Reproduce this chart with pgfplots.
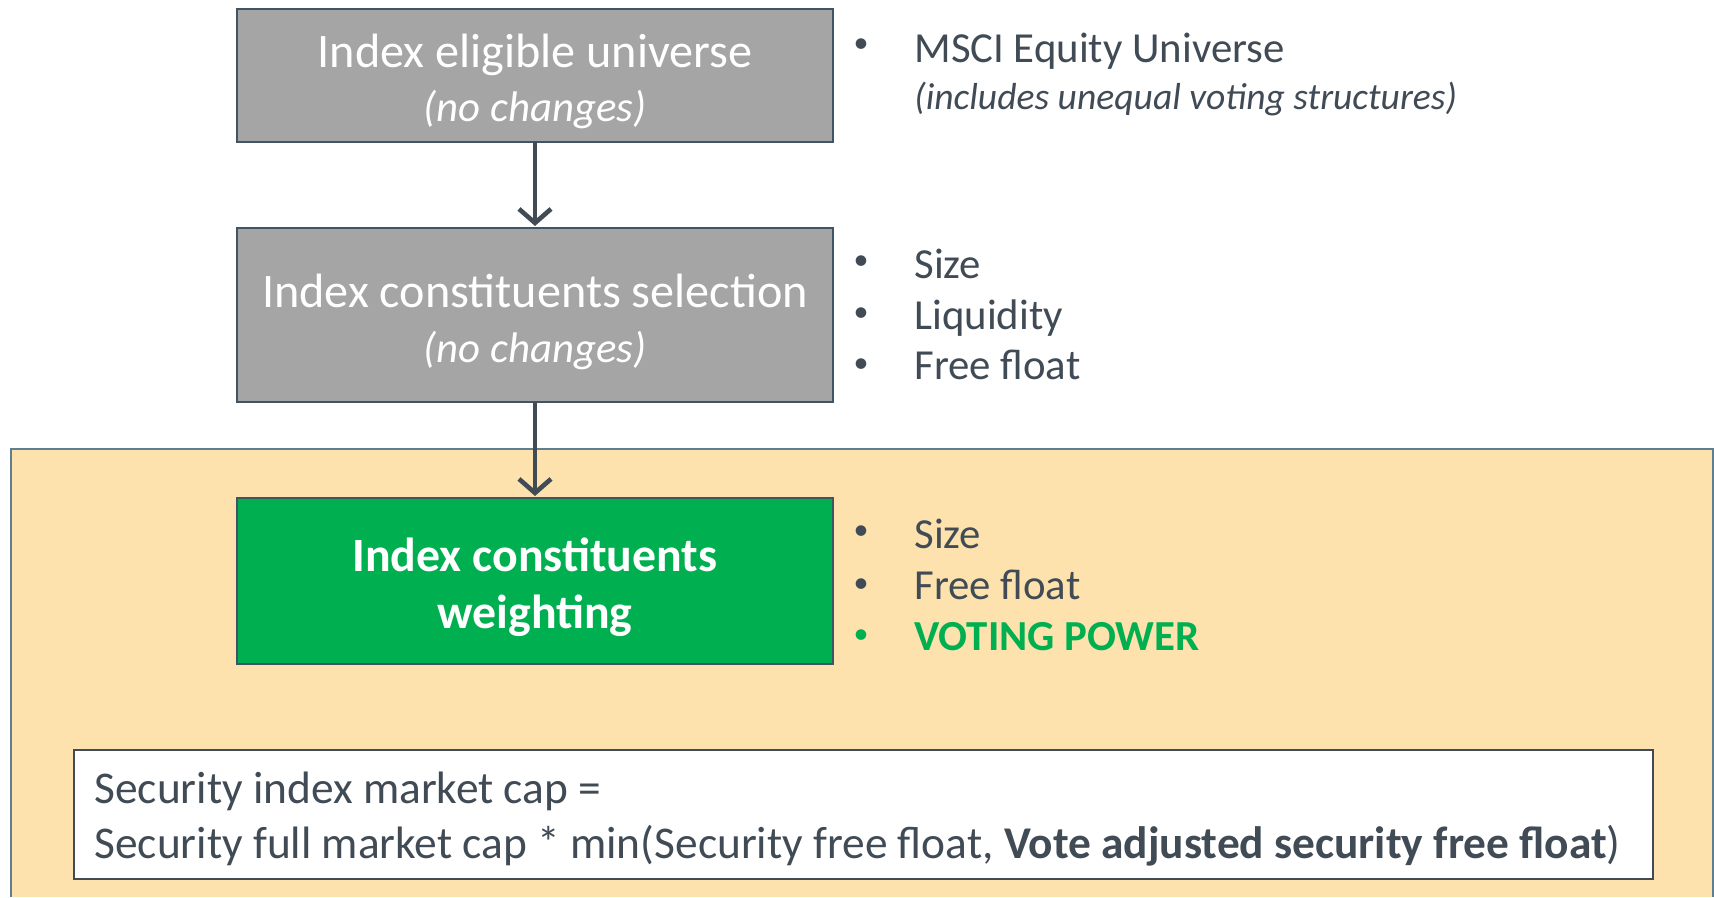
\documentclass[border=0pt]{standalone}
\usepackage{pgfplots}
\pgfplotsset{compat=1.18}
\usepackage{fontspec}
\setmainfont{Carlito}
\usetikzlibrary{arrows.meta}
\definecolor{txt}{HTML}{404B55}
\definecolor{boxgray}{HTML}{A5A5A5}
\definecolor{edge}{HTML}{3F5566}
\definecolor{grn}{HTML}{00B050}
\definecolor{panel}{HTML}{FDE2AD}
\definecolor{panelline}{HTML}{5E7E92}
\newcommand{\fbig}{\fontsize{24.1}{30}\selectfont}
\newcommand{\fbit}{\fontsize{21.4}{30}\selectfont}
\newcommand{\fgrn}{\fontsize{23.9}{30}\selectfont}
\newcommand{\fmid}{\fontsize{21.4}{28}\selectfont}
\newcommand{\fsml}{\fontsize{18.8}{24}\selectfont}
\newcommand{\fform}{\fontsize{22.7}{28}\selectfont}
\newcommand{\fbul}{\fontsize{15}{18}\selectfont}
\begin{document}
\begin{tikzpicture}
\begin{axis}[width=857pt,height=448.5pt,scale only axis,xmin=0,xmax=1714,ymin=0,ymax=897,y dir=reverse,hide axis,clip=false]
\fill[white] (axis cs:0,0) rectangle (axis cs:1714,897);
% orange panel
\fill[panel] (axis cs:11,449) rectangle (axis cs:1714,897);
\draw[panelline,line width=1pt] (axis cs:11,897) -- (axis cs:11,449) -- (axis cs:1713,449) -- (axis cs:1713,897);
% boxes
\draw[edge,line width=1.1pt,fill=boxgray] (axis cs:237,9) rectangle (axis cs:833,142);
\draw[edge,line width=1.1pt,fill=boxgray] (axis cs:237,228) rectangle (axis cs:833,402);
\draw[edge,line width=1.1pt,fill=grn] (axis cs:237,498) rectangle (axis cs:833,664);
\draw[txt,line width=1.1pt,fill=white] (axis cs:74,750) rectangle (axis cs:1653,879);
% arrows
\draw[txt,line width=2.3pt,-{Straight Barb[length=7pt,width=16pt]}] (axis cs:535,142) -- (axis cs:535,226);
\draw[txt,line width=2.3pt,-{Straight Barb[length=7pt,width=16pt]}] (axis cs:535,402) -- (axis cs:535,496);
% box texts
\node[white,anchor=base,inner sep=0] at (axis cs:535,68) {\fbig Index eligible universe};
\node[white,anchor=base,inner sep=0] at (axis cs:535,122) {\fbit\itshape (no changes)};
\node[white,anchor=base,inner sep=0] at (axis cs:535,308) {\fbig Index constituents selection};
\node[white,anchor=base,inner sep=0] at (axis cs:535,363) {\fbit\itshape (no changes)};
\node[white,anchor=base,inner sep=0] at (axis cs:535,571) {\fgrn\bfseries Index constituents};
\node[white,anchor=base,inner sep=0] at (axis cs:535,628) {\fgrn\bfseries weighting};
% bullets
\node[txt,anchor=center,inner sep=0] at (axis cs:861,46) {\fbul •};
\node[txt,anchor=base west,inner sep=0] at (axis cs:914,63) {\fmid MSCI Equity Universe};
\node[txt,anchor=base west,inner sep=0] at (axis cs:914,110) {\fsml\itshape (includes unequal voting structures)};
\node[txt,anchor=center,inner sep=0] at (axis cs:861,263) {\fbul •};
\node[txt,anchor=base west,inner sep=0] at (axis cs:914,279) {\fmid Size};
\node[txt,anchor=center,inner sep=0] at (axis cs:861,315) {\fbul •};
\node[txt,anchor=base west,inner sep=0] at (axis cs:914,330) {\fmid Liquidity};
\node[txt,anchor=center,inner sep=0] at (axis cs:861,366) {\fbul •};
\node[txt,anchor=base west,inner sep=0] at (axis cs:914,380) {\fmid Free float};
\node[txt,anchor=center,inner sep=0] at (axis cs:861,533) {\fbul •};
\node[txt,anchor=base west,inner sep=0] at (axis cs:914,548) {\fmid Size};
\node[txt,anchor=center,inner sep=0] at (axis cs:861,586) {\fbul •};
\node[txt,anchor=base west,inner sep=0] at (axis cs:914,599) {\fmid Free float};
\node[grn,anchor=center,inner sep=0] at (axis cs:861,637) {\fbul •};
\node[grn,anchor=base west,inner sep=0] at (axis cs:914,650) {\fmid\bfseries VOTING POWER};
% formula
\node[txt,anchor=base west,inner sep=0] at (axis cs:94,803) {\fform Security index market cap =};
\node[txt,anchor=base west,inner sep=0] at (axis cs:94,858) {\fform Security full market cap * min(Security free float, \textbf{Vote adjusted security free float})};
\end{axis}
\end{tikzpicture}
\end{document}
